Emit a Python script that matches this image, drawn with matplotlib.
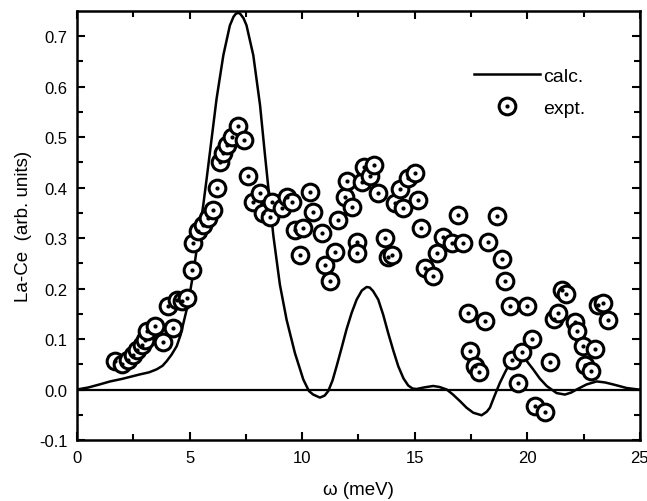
import numpy as np
import matplotlib
matplotlib.use("Agg")
import matplotlib.pyplot as plt
from matplotlib.lines import Line2D

plt.rcParams['font.family'] = ['Liberation Sans', 'DejaVu Sans']

# experimental points (omega in meV, La-Ce difference)
expt_x = [1.69, 1.98, 2.28, 2.50, 2.65, 2.87, 3.02, 3.09, 3.46, 3.83,
          4.05, 4.28, 4.43, 4.65, 4.87, 5.09, 5.16, 5.39, 5.61, 5.83,
          6.05, 6.20, 6.35, 6.50, 6.65, 6.87, 7.16, 7.43, 7.61, 7.83,
          8.13, 8.27, 8.57, 8.64, 9.09, 9.31, 9.53, 9.68, 9.90, 10.05,
          10.35, 10.49, 10.87, 11.01, 11.23, 11.46, 11.60, 11.90, 11.97, 12.20,
          12.42, 12.42, 12.64, 12.75, 13.01, 13.20, 13.38, 13.68, 13.80, 13.97,
          14.12, 14.34, 14.49, 14.71, 15.01, 15.16, 15.30, 15.45, 15.82, 15.97,
          16.27, 16.64, 16.93, 17.15, 17.38, 17.45, 17.67, 17.86, 18.12, 18.27,
          18.64, 18.86, 19.01, 19.23, 19.30, 19.60, 19.75, 19.97, 20.19, 20.34,
          20.78, 21.00, 21.17, 21.38, 21.52, 21.74, 22.11, 22.19, 22.48, 22.56,
          22.85, 23.00, 23.15, 23.37, 23.59]
expt_y = [0.056, 0.051, 0.059, 0.069, 0.079, 0.089, 0.099, 0.115, 0.125, 0.095,
          0.165, 0.122, 0.178, 0.175, 0.181, 0.237, 0.291, 0.313, 0.326, 0.339,
          0.356, 0.400, 0.451, 0.468, 0.484, 0.501, 0.522, 0.494, 0.423, 0.372,
          0.390, 0.349, 0.342, 0.372, 0.359, 0.382, 0.372, 0.316, 0.267, 0.319,
          0.392, 0.352, 0.310, 0.247, 0.214, 0.273, 0.336, 0.382, 0.412, 0.362,
          0.293, 0.270, 0.410, 0.440, 0.422, 0.445, 0.389, 0.300, 0.262, 0.267,
          0.369, 0.398, 0.359, 0.418, 0.428, 0.375, 0.320, 0.240, 0.224, 0.270,
          0.303, 0.290, 0.346, 0.290, 0.152, 0.076, 0.046, 0.034, 0.135, 0.293,
          0.343, 0.258, 0.214, 0.165, 0.059, 0.013, 0.074, 0.166, 0.100, -0.033,
          -0.045, 0.054, 0.140, 0.152, 0.198, 0.190, 0.133, 0.115, 0.086, 0.049,
          0.036, 0.080, 0.168, 0.171, 0.138]

# calculated curve
calc_x = [0, 0.5, 1.0, 1.47, 2.0, 2.8, 3.2, 3.54, 3.8, 3.98,
          4.2, 4.43, 4.6, 4.8, 4.94, 5.17, 5.39, 5.61, 5.76, 5.98,
          6.2, 6.5, 6.79, 6.95, 7.05, 7.16, 7.25, 7.4, 7.53, 7.83,
          8.13, 8.35, 8.5, 8.72, 9.01, 9.31, 9.68, 10.05, 10.3, 10.49,
          10.79, 11.0, 11.16, 11.35, 11.53, 11.75, 11.97, 12.2, 12.42, 12.65,
          12.86, 13.0, 13.15, 13.38, 13.6, 13.82, 14.05, 14.27, 14.5, 14.71,
          14.9, 15.08, 15.4, 15.82, 16.1, 16.42, 16.7, 17.01, 17.3, 17.6,
          17.97, 18.2, 18.34, 18.55, 18.78, 19.0, 19.23, 19.5, 19.85, 20.05,
          20.26, 20.55, 20.86, 21.3, 21.67, 21.95, 22.19, 22.63, 23.08, 23.45,
          23.82, 24.41, 24.93, 25.0]
calc_y = [0.0, 0.004, 0.010, 0.016, 0.021, 0.030, 0.034, 0.040, 0.047, 0.056,
          0.069, 0.086, 0.108, 0.145, 0.171, 0.232, 0.300, 0.366, 0.418, 0.497,
          0.576, 0.662, 0.721, 0.738, 0.744, 0.746, 0.744, 0.735, 0.721, 0.662,
          0.563, 0.464, 0.399, 0.305, 0.208, 0.138, 0.072, 0.020, -0.003, -0.010,
          -0.016, -0.012, -0.003, 0.018, 0.046, 0.082, 0.119, 0.152, 0.178, 0.196,
          0.203, 0.202, 0.195, 0.178, 0.148, 0.112, 0.077, 0.046, 0.022, 0.008,
          0.002, 0.001, 0.004, 0.007, 0.005, 0.0, -0.010, -0.023, -0.036, -0.046,
          -0.051, -0.044, -0.036, -0.012, 0.013, 0.033, 0.053, 0.062, 0.064, 0.052,
          0.040, 0.022, 0.007, -0.007, -0.010, -0.006, 0.0, 0.010, 0.016, 0.014,
          0.010, 0.003, 0.0, 0.0]

fig = plt.figure(figsize=(6.47, 5.02), dpi=100)
ax = fig.add_axes([0.119, 0.1215, 0.870, 0.855])

ax.axhline(0, color='black', lw=1.6, zorder=1)
ax.plot(calc_x, calc_y, color='black', lw=1.8, zorder=2)
ax.plot(expt_x, expt_y, 'o', ls='none', ms=12, mfc='white', mec='black', mew=2.2, zorder=3)
ax.plot(expt_x, expt_y, 'o', ls='none', ms=2, color='black', zorder=4)

ax.set_xlim(0, 25)
ax.set_ylim(-0.1, 0.75)
ax.set_xticks([0, 5, 10, 15, 20, 25])
ax.set_xticks(np.arange(2.5, 25, 5), minor=True)
ax.set_yticks([-0.1, 0.0, 0.1, 0.2, 0.3, 0.4, 0.5, 0.6, 0.7])
ax.set_yticks(np.arange(-0.05, 0.75, 0.1), minor=True)
ax.set_yticklabels(['-0.1', '0.0', '0.1', '0.2', '0.3', '0.4', '0.5', '0.6', '0.7'])
ax.tick_params(which='both', direction='in', top=True, right=True, width=1.5, labelsize=12)
ax.tick_params(which='major', length=6, pad=7)
ax.tick_params(which='minor', length=4)
for s in ax.spines.values():
    s.set_linewidth(1.8)

ax.set_xlabel(u'\u03c9 (meV)', fontsize=13.5, labelpad=12)
ax.set_ylabel('La-Ce  (arb. units)', fontsize=13.5, labelpad=5)

h_calc = Line2D([], [], color='black', lw=1.8)
h_ring = Line2D([], [], marker='o', ls='none', ms=12, mfc='white', mec='black', mew=2.2)
h_dot = Line2D([], [], marker='o', ls='none', ms=2, color='black')
ax.legend([h_calc, (h_ring, h_dot)], ['calc.', 'expt.'], loc='upper right',
          bbox_to_anchor=(0.935, 0.91), frameon=False, fontsize=14,
          handlelength=3.4, handletextpad=0.2, labelspacing=0.75)

fig.savefig('out.png', dpi=100)
